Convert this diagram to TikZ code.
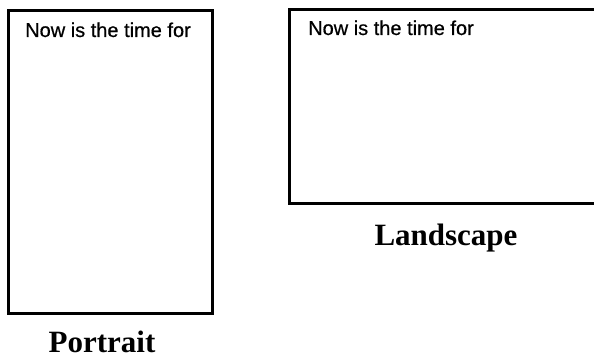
\documentclass[tikz,border=0pt]{standalone}
\usepackage{fontspec}
\setmainfont{Liberation Serif}
\newfontfamily\helv[FakeBold=0.6]{Liberation Sans}
\begin{document}
\begin{tikzpicture}[x=1pt,y=-1pt,
  frame/.style={draw=black,line width=3pt},
  body/.style={anchor=base west,inner sep=0pt,font=\helv\fontsize{20}{24}\selectfont},
  caption/.style={anchor=base,inner sep=0pt,font=\bfseries\fontsize{31}{36}\selectfont}]
\useasboundingbox (0,0) rectangle (594,358);
\clip (0,0) rectangle (594,358);
\draw[frame] (8,11) rectangle (212,313);
\draw[frame] (289,10) rectangle (610,204);
\node[body] (ptext) at (25,37) {Now is the time for};
\node[body] (ltext) at (308,35) {Now is the time for};
\node[caption] (pcap) at (102,352) {Portrait};
\node[caption] (lcap) at (446,245) {Landscape};
\end{tikzpicture}
\end{document}
